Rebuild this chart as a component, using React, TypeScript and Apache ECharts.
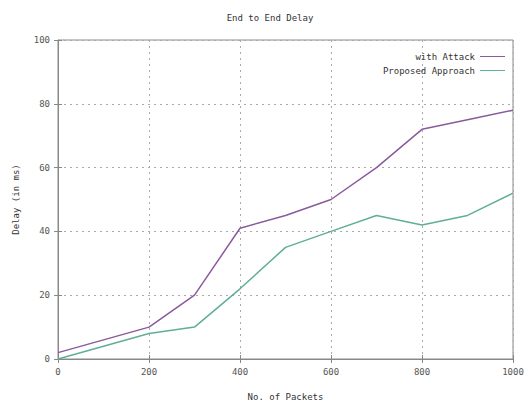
import React, { useEffect, useRef } from "react";
import * as echarts from "echarts";

const packets = [0, 200, 300, 400, 500, 600, 700, 800, 900, 1000];
const withAttack = [2, 10, 20, 41, 45, 50, 60, 72, 75, 78];
const proposed = [0, 8, 10, 22, 35, 40, 45, 42, 45, 52];
const seriesNames = ["with Attack", "Proposed Approach"];
const FONT = "DejaVu Sans Mono";

export default function App() {
  const ref = useRef<HTMLDivElement>(null);
  useEffect(() => {
    if (!ref.current) return;
    const chart = echarts.init(ref.current, undefined, { renderer: "svg" });
    const axisText = { fontFamily: FONT, fontSize: 9, color: "#555" };
    const gridLine = { show: true, lineStyle: { type: [2, 4] as any, color: "#aaa", width: 1 } };
    chart.setOption({
      animation: false,
      backgroundColor: "#fff",
      title: {
        text: "End to End Delay",
        left: 265,
        top: 8,
        textAlign: "center",
        textStyle: { fontFamily: FONT, fontSize: 9, fontWeight: "normal", color: "#333" },
      },
      legend: {
        orient: "vertical",
        right: 20,
        top: 47,
        align: "right",
        itemGap: 5,
        itemWidth: 25,
        itemHeight: 1,
        icon: "rect",
        textStyle: { fontFamily: FONT, fontSize: 9, color: "#333", padding: [0, 0, 0, 0] },
        data: seriesNames,
      },
      grid: {
        left: 58,
        right: 17,
        top: 40,
        bottom: 46,
        show: true,
        borderColor: "#888",
        borderWidth: 1,
        backgroundColor: "transparent",
      },
      xAxis: [
        {
          type: "value",
          min: 0,
          max: 1000,
          interval: 200,
          name: "No. of Packets",
          nameLocation: "middle",
          nameGap: 33,
          nameTextStyle: { ...axisText, color: "#333" },
          axisLine: { show: true, lineStyle: { color: "#888" } },
          axisTick: { show: true, inside: true, length: 4, lineStyle: { color: "#888" } },
          axisLabel: { ...axisText, margin: 8, formatter: (v: number) => String(v) },
          splitLine: gridLine,
        },
        {
          type: "value",
          position: "top",
          min: 0,
          max: 1000,
          interval: 200,
          axisLine: { show: false },
          axisTick: { show: true, inside: true, length: 4, lineStyle: { color: "#888" } },
          axisLabel: { show: false },
          splitLine: { show: false },
        },
      ],
      yAxis: [
        {
          type: "value",
          min: 0,
          max: 100,
          interval: 20,
          name: "Delay (in ms)",
          nameLocation: "middle",
          nameGap: 38,
          nameTextStyle: { ...axisText, color: "#333" },
          axisLine: { show: true, lineStyle: { color: "#888" } },
          axisTick: { show: true, inside: true, length: 4, lineStyle: { color: "#888" } },
          axisLabel: { ...axisText, margin: 8 },
          splitLine: gridLine,
        },
        {
          type: "value",
          position: "right",
          min: 0,
          max: 100,
          interval: 20,
          axisLine: { show: false },
          axisTick: { show: true, inside: true, length: 4, lineStyle: { color: "#888" } },
          axisLabel: { show: false },
          splitLine: { show: false },
        },
      ],
      series: [
        {
          name: seriesNames[0],
          type: "line",
          data: packets.map((p, i) => [p, withAttack[i]]),
          showSymbol: false,
          symbol: "none",
          lineStyle: { color: "#8a5a9c", width: 1.5 },
          itemStyle: { color: "#8a5a9c" },
        },
        {
          name: seriesNames[1],
          type: "line",
          data: packets.map((p, i) => [p, proposed[i]]),
          showSymbol: false,
          symbol: "none",
          lineStyle: { color: "#5fae9a", width: 1.5 },
          itemStyle: { color: "#5fae9a" },
        },
      ],
    });
    return () => chart.dispose();
  }, []);
  return (
    <div
      ref={ref}
      style={{ position: "fixed", left: 0, top: 0, width: 530, height: 406, background: "#fff" }}
    />
  );
}
